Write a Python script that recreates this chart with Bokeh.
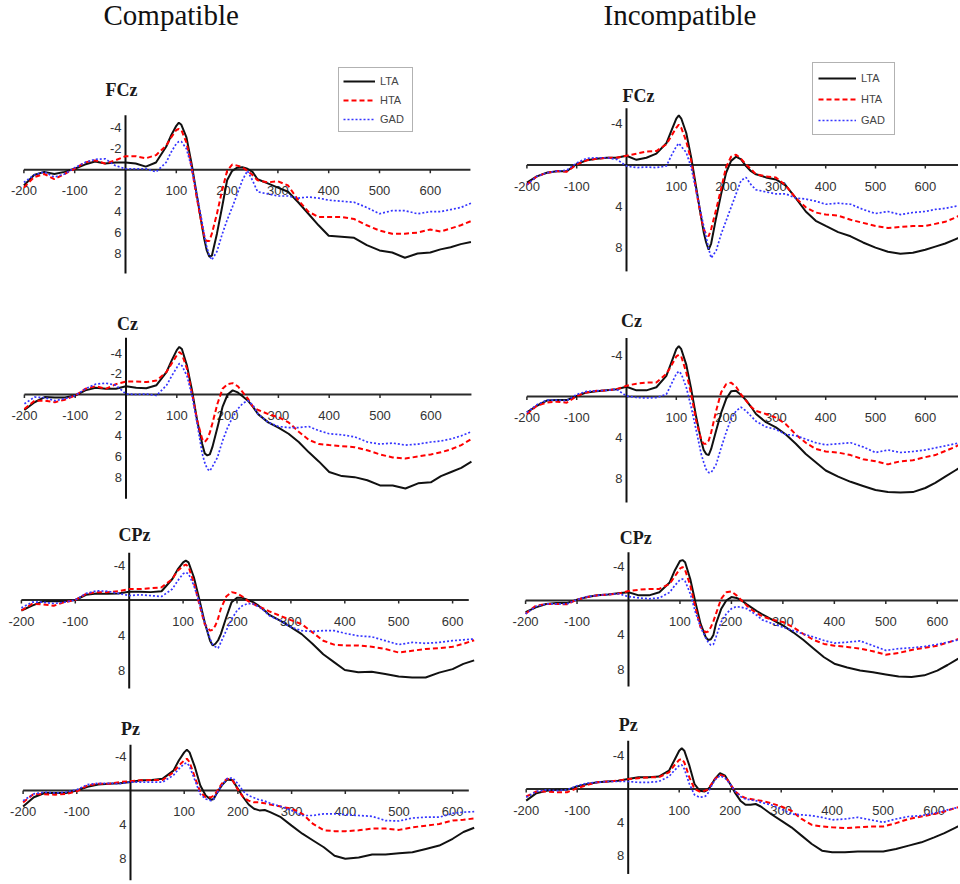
from bokeh.plotting import figure
from bokeh.layouts import column, row
from bokeh.models import Range1d
from bokeh.core.properties import value
from bokeh.embed import file_html
from bokeh.resources import INLINE

# ---------------- data ----------------
TIME = [-200, -180, -160, -140, -120, -100, -80, -60, -40, -20,
        0, 20, 40, 60, 80, 90, 100, 105, 110, 120,
        130, 140, 150, 155, 160, 165, 170, 180, 190, 200,
        210, 220, 230, 240, 250, 260, 280, 300, 320, 340,
        360, 380, 400, 425, 450, 475, 500, 525, 550, 575,
        600, 620, 640, 660, 680]
TIME_640 = [t for t in TIME if t <= 640]

GROUPS = ["LTA", "HTA", "GAD"]
CONDITIONS = ["Compatible", "Incompatible"]
SITES = ["FCz", "Cz", "CPz", "Pz"]

X_TICKS = [-200, -100, 100, 200, 300, 400, 500, 600]
X_TICK_LABELS = ["-200", "-100", "100", "200", "300", "400", "500", "600"]
Y_TICKS_FINE = [-4, -2, 2, 4, 6, 8]
Y_TICKS_COARSE = [-4, 4, 8]

# FCz - compatible
FCZ_COMP_LTA = [1.5, 0.5, 0.2, 0.4, 0.2, -0.1, -0.5, -0.8, -0.6, -0.7,
                -0.7, -0.6, -0.3, -0.7, -2.2, -3.3, -4.2, -4.5, -4.3, -3.1,
                -0.6, 2.3, 5.2, 6.6, 7.7, 8.3, 8.2, 6.1, 3.6, 1.0,
                0.1, -0.2, -0.25, -0.1, 0.2, 0.9, 1.3, 1.7, 2.1, 3.1,
                4.2, 5.3, 6.3, 6.4, 6.5, 7.2, 7.7, 7.9, 8.4, 8.0,
                7.9, 7.6, 7.4, 7.1, 6.9]
FCZ_COMP_HTA = [1.7, 0.7, 0.4, 0.9, 0.4, -0.1, -0.7, -0.9, -0.6, -0.9,
                -1.3, -1.3, -1.1, -1.4, -2.3, -3.1, -3.8, -3.9, -3.8, -2.6,
                -0.3, 2.6, 5.2, 6.3, 6.8, 6.8, 6.1, 4.2, 2.0, 0.1,
                -0.5, -0.4, -0.25, 0.1, 0.5, 1.0, 1.2, 1.1, 1.5, 2.9,
                4.0, 4.5, 4.5, 4.5, 4.7, 5.3, 5.8, 6.1, 6.1, 6.0,
                5.7, 5.9, 5.6, 5.3, 4.9]
FCZ_COMP_GAD = [1.2, 0.5, 0.2, 0.7, 0.4, -0.2, -0.7, -1.0, -1.05, -0.4,
                -0.1, -0.1, -0.1, 0.2, -0.7, -1.7, -2.5, -2.7, -2.7, -2.0,
                -0.25, 2.3, 4.8, 6.2, 7.4, 8.2, 8.6, 7.8, 6.2, 4.8,
                3.6, 2.3, 1.0, 0.1, 1.0, 2.1, 2.3, 2.5, 2.5, 2.7,
                2.6, 2.7, 2.9, 3.0, 3.1, 3.6, 4.2, 3.9, 3.9, 4.2,
                4.0, 4.0, 3.8, 3.6, 3.2]

# FCz - incompatible
FCZ_INC_LTA = [1.7, 1.1, 0.75, 0.6, 0.6, -0.1, -0.45, -0.6, -0.7, -0.7,
               -0.9, -0.5, -0.7, -1.1, -2.1, -3.3, -4.5, -4.8, -4.5, -3.1,
               -0.7, 2.2, 5.1, 6.5, 7.5, 8.2, 7.6, 5.1, 2.8, 0.75,
               -0.4, -0.8, -0.55, 0.1, 0.6, 0.9, 1.2, 1.4, 2.0, 3.2,
               4.5, 5.4, 5.9, 6.5, 6.9, 7.5, 8.0, 8.4, 8.6, 8.5,
               8.2, 7.9, 7.6, 7.2, 6.8]
FCZ_INC_HTA = [1.9, 1.1, 0.75, 0.6, 0.65, -0.05, -0.45, -0.6, -0.7, -0.7,
               -0.9, -1.1, -1.3, -1.35, -2.0, -2.8, -3.6, -3.9, -3.6, -2.3,
               -0.4, 2.5, 5.1, 6.2, 6.7, 6.9, 6.2, 4.3, 2.3, 0.2,
               -0.8, -1.0, -0.6, -0.05, 0.4, 0.9, 1.1, 1.2, 2.0, 3.2,
               4.1, 4.6, 4.8, 4.9, 5.3, 5.6, 5.9, 6.1, 6.0, 5.9,
               5.9, 5.7, 5.5, 5.1, 4.6]
FCZ_INC_GAD = [1.9, 1.1, 0.75, 0.6, 0.5, -0.2, -0.65, -0.7, -0.7, -0.55,
               0.1, 0.25, 0.2, 0.25, 0.1, -0.9, -1.8, -2.1, -1.8, -1.2,
               0.25, 2.5, 4.8, 5.9, 7.0, 8.1, 9.0, 8.3, 6.7, 5.4,
               4.1, 2.8, 1.5, 1.2, 1.9, 2.4, 2.6, 2.8, 2.8, 3.2,
               3.3, 3.5, 3.8, 3.7, 3.8, 4.3, 4.7, 4.5, 4.8, 4.6,
               4.5, 4.3, 4.2, 4.0, 3.9]

# Cz - compatible
CZ_COMP_LTA = [1.5, 0.75, 0.25, 0.3, 0.3, 0.1, -0.4, -0.65, -0.55, -0.55,
               -0.8, -0.65, -0.6, -0.9, -2.2, -3.3, -4.3, -4.6, -4.4, -2.8,
               -0.4, 2.5, 4.8, 5.7, 5.9, 5.8, 5.1, 3.2, 1.2, 0.0,
               -0.4, -0.2, 0.2, 0.6, 1.2, 1.9, 2.7, 3.2, 3.8, 4.6,
               5.6, 6.5, 7.5, 7.9, 8.0, 8.3, 8.8, 8.8, 9.1, 8.6,
               8.5, 7.9, 7.5, 7.1, 6.5]
CZ_COMP_HTA = [1.4, 0.6, 0.6, 0.75, 0.5, 0.1, -0.55, -0.8, -0.55, -1.0,
               -1.25, -1.25, -1.2, -1.35, -2.2, -3.0, -3.8, -4.1, -3.9, -2.5,
               -0.1, 2.5, 4.3, 4.6, 4.3, 3.7, 2.8, 0.9, -0.55, -1.0,
               -1.1, -0.8, -0.2, 0.4, 1.2, 1.5, 1.9, 2.2, 2.7, 3.6,
               4.4, 4.8, 4.9, 5.0, 5.1, 5.4, 5.8, 6.1, 6.2, 6.0,
               5.8, 5.6, 5.3, 4.9, 4.3]
CZ_COMP_GAD = [0.9, 0.25, 0.3, 0.6, 0.4, 0.1, -0.55, -1.0, -1.1, -0.9,
               -0.05, 0.0, -0.05, 0.1, -0.9, -1.8, -2.6, -3.0, -2.8, -1.8,
               0.1, 2.8, 5.7, 6.6, 7.2, 7.4, 7.0, 6.1, 4.5, 3.2,
               2.2, 1.4, 0.85, 0.6, 1.05, 1.9, 2.7, 3.1, 3.2, 3.2,
               3.1, 3.5, 3.8, 3.9, 4.1, 4.6, 4.8, 4.7, 4.9, 4.8,
               4.6, 4.5, 4.3, 4.0, 3.6]

# Cz - incompatible
CZ_INC_LTA = [1.55, 0.9, 0.4, 0.35, 0.35, -0.05, -0.4, -0.5, -0.6, -0.7,
              -0.95, -0.6, -0.6, -0.9, -2.0, -3.3, -4.6, -4.9, -4.6, -3.1,
              -0.7, 2.0, 4.3, 5.2, 5.6, 5.7, 5.1, 3.3, 1.6, 0.25,
              -0.5, -0.55, -0.15, 0.35, 1.0, 1.7, 2.5, 3.0, 3.7, 4.6,
              5.6, 6.4, 7.2, 7.8, 8.3, 8.7, 9.1, 9.3, 9.35, 9.3,
              8.9, 8.4, 7.8, 7.2, 6.6]
CZ_INC_HTA = [1.7, 0.9, 0.6, 0.5, 0.6, -0.05, -0.4, -0.55, -0.6, -0.7,
              -1.05, -1.25, -1.35, -1.35, -2.2, -3.0, -3.9, -4.05, -3.9, -2.35,
              -0.2, 2.4, 4.2, 4.6, 4.6, 4.3, 3.5, 1.4, -0.4, -1.2,
              -1.35, -0.95, -0.2, 0.4, 1.0, 1.4, 1.7, 2.05, 2.7, 3.7,
              4.5, 5.1, 5.35, 5.45, 5.7, 6.1, 6.3, 6.6, 6.3, 6.2,
              5.9, 5.7, 5.3, 4.9, 4.4]
CZ_INC_GAD = [1.55, 0.8, 0.35, 0.35, 0.4, -0.2, -0.5, -0.55, -0.6, -0.7,
              -0.05, 0.1, 0.15, 0.1, -0.2, -1.2, -2.2, -2.45, -2.2, -0.9,
              1.05, 3.3, 5.6, 6.4, 7.1, 7.4, 7.4, 6.6, 5.0, 3.5,
              2.2, 1.4, 1.05, 1.4, 1.9, 2.4, 2.95, 3.2, 3.7, 3.8,
              4.15, 4.5, 4.7, 4.6, 4.5, 4.9, 5.45, 5.2, 5.45, 5.35,
              5.2, 5.0, 4.8, 4.6, 4.4]

# CPz - compatible (to 640 ms)
CPZ_COMP_LTA = [1.2, 0.65, 0.15, 0.15, 0.15, 0.0, -0.6, -0.75, -0.7, -0.75,
                -0.95, -0.95, -0.9, -1.0, -2.4, -3.5, -4.3, -4.5, -4.3, -2.6,
                -0.1, 2.55, 4.65, 5.2, 5.0, 4.6, 3.9, 2.0, 0.25, -0.25,
                -0.25, 0.0, 0.25, 0.65, 1.15, 1.7, 2.35, 3.1, 3.9, 5.0,
                6.2, 7.1, 8.0, 8.25, 8.2, 8.45, 8.75, 8.85, 8.85, 8.3,
                7.9, 7.3, 6.9]
CPZ_COMP_HTA = [1.2, 0.45, 0.5, 0.65, 0.25, 0.0, -0.7, -0.9, -0.9, -1.0,
                -1.25, -1.25, -1.35, -1.45, -2.4, -3.35, -3.9, -4.05, -3.8, -2.0,
                0.45, 2.75, 3.5, 3.4, 2.9, 2.1, 1.0, -0.4, -0.9, -0.75,
                -0.4, 0.1, 0.45, 0.75, 1.0, 1.3, 1.8, 2.3, 2.75, 3.7,
                4.65, 5.1, 5.2, 5.2, 5.35, 5.6, 6.0, 5.8, 5.6, 5.5,
                5.35, 5.0, 4.6]
CPZ_COMP_GAD = [0.9, 0.25, 0.25, 0.4, 0.25, 0.0, -0.75, -1.05, -1.0, -0.75,
                -0.5, -0.6, -0.5, -0.4, -1.25, -2.2, -3.0, -3.15, -3.0, -1.65,
                0.25, 2.55, 4.45, 5.1, 5.35, 5.5, 4.85, 3.5, 2.2, 1.2,
                0.65, 0.4, 0.45, 0.75, 1.2, 1.8, 2.35, 3.1, 3.5, 3.6,
                3.5, 3.5, 3.8, 4.1, 4.2, 4.65, 5.1, 4.85, 4.95, 4.85,
                4.65, 4.55, 4.45]

# CPz - incompatible
CPZ_INC_LTA = [1.35, 0.8, 0.4, 0.3, 0.3, -0.1, -0.4, -0.6, -0.7, -0.85,
               -0.95, -0.6, -0.6, -0.95, -2.1, -3.5, -4.6, -4.7, -4.45, -2.5,
               0.2, 2.7, 4.25, 4.6, 4.5, 4.0, 2.7, 1.0, 0.0, -0.4,
               -0.3, 0.0, 0.45, 0.85, 1.25, 1.6, 2.25, 2.9, 3.7, 4.6,
               5.6, 6.6, 7.35, 7.8, 8.15, 8.35, 8.6, 8.85, 8.9, 8.7,
               8.15, 7.5, 6.8, 6.2, 5.6]
CPZ_INC_HTA = [1.55, 0.6, 0.4, 0.4, 0.45, -0.1, -0.4, -0.6, -0.7, -0.8,
               -1.1, -1.25, -1.35, -1.35, -1.95, -2.8, -3.7, -3.9, -3.55, -1.75,
               0.8, 3.1, 3.7, 3.6, 3.1, 2.4, 1.55, -0.2, -0.95, -1.05,
               -0.6, 0.0, 0.6, 1.1, 1.5, 1.85, 2.25, 2.5, 3.1, 3.9,
               4.6, 5.05, 5.25, 5.4, 5.6, 5.9, 6.3, 6.1, 5.75, 5.5,
               5.25, 4.9, 4.5, 4.1, 3.7]
CPZ_INC_GAD = [1.55, 0.7, 0.4, 0.4, 0.4, -0.1, -0.45, -0.6, -0.7, -0.8,
               -0.45, -0.3, -0.2, -0.3, -0.95, -1.75, -2.4, -2.5, -2.25, -0.8,
               1.35, 3.1, 4.35, 4.85, 5.2, 5.1, 4.25, 2.5, 1.55, 0.95,
               0.7, 0.8, 0.95, 1.35, 1.75, 2.25, 2.7, 3.1, 3.5, 3.9,
               4.25, 4.65, 4.95, 4.85, 4.7, 5.25, 5.8, 5.6, 5.5, 5.35,
               5.1, 4.85, 4.6, 4.4, 4.2]

# Pz - compatible (to 640 ms)
PZ_COMP_LTA = [1.9, 0.8, 0.3, 0.3, 0.3, 0.0, -0.45, -0.7, -0.8, -0.85,
               -1.0, -1.2, -1.25, -1.4, -2.35, -3.55, -4.5, -4.8, -4.5, -2.75,
               -0.6, 0.6, 1.1, 1.0, 0.4, -0.1, -0.6, -1.3, -1.2, -0.2,
               0.8, 1.65, 2.15, 2.35, 2.3, 2.55, 3.15, 4.15, 5.1, 5.9,
               6.7, 7.7, 8.05, 7.9, 7.55, 7.55, 7.4, 7.3, 6.9, 6.5,
               5.7, 4.9, 4.4]
PZ_COMP_HTA = [1.4, 0.4, 0.45, 0.5, 0.4, 0.1, -0.6, -0.8, -0.8, -1.0,
               -1.1, -1.2, -1.25, -1.25, -2.15, -2.95, -3.55, -3.75, -3.35, -1.55,
               0.2, 0.8, 0.8, 0.6, 0.2, -0.3, -0.8, -1.4, -1.2, -0.1,
               0.8, 1.2, 1.4, 1.4, 1.5, 1.65, 1.9, 2.15, 2.75, 3.95,
               4.7, 4.8, 4.8, 4.7, 4.5, 4.5, 4.65, 4.35, 4.15, 3.95,
               3.55, 3.45, 3.3]
PZ_COMP_GAD = [1.2, 0.4, 0.2, 0.3, 0.2, -0.1, -0.7, -0.85, -0.85, -0.8,
               -1.0, -1.0, -1.0, -1.0, -1.8, -2.55, -3.15, -3.25, -2.85, -1.2,
               0.45, 1.0, 1.2, 1.0, 0.4, -0.1, -0.6, -1.4, -1.5, -0.8,
               0.1, 0.6, 0.85, 1.1, 1.25, 1.5, 1.9, 2.35, 2.95, 2.95,
               2.75, 2.75, 2.85, 2.95, 3.05, 3.55, 3.6, 3.25, 3.15, 3.15,
               2.7, 2.55, 2.5]

# Pz - incompatible
PZ_INC_LTA = [1.4, 0.5, 0.2, 0.1, 0.1, -0.3, -0.6, -0.8, -0.9, -1.0,
              -1.2, -1.4, -1.4, -1.5, -2.2, -3.4, -4.6, -4.9, -4.6, -2.8,
              -0.6, 0.2, 0.3, 0.1, -0.2, -0.7, -1.2, -1.9, -1.6, -0.6,
              0.5, 1.4, 1.9, 1.9, 1.8, 2.1, 3.0, 3.8, 4.6, 5.6,
              6.6, 7.4, 7.6, 7.6, 7.5, 7.5, 7.5, 7.2, 6.8, 6.4,
              5.8, 5.3, 4.7, 4.1, 3.6]
PZ_INC_HTA = [0.9, 0.3, 0.3, 0.4, 0.4, -0.1, -0.5, -0.8, -0.9, -1.0,
              -1.2, -1.3, -1.4, -1.4, -2.0, -2.8, -3.5, -3.6, -3.2, -1.4,
              0.0, 0.3, 0.2, 0.1, -0.3, -0.75, -1.2, -1.7, -1.5, -0.6,
              0.3, 0.8, 1.1, 1.2, 1.3, 1.4, 1.7, 2.1, 2.6, 3.6,
              4.3, 4.5, 4.6, 4.7, 4.6, 4.5, 4.5, 4.1, 3.6, 3.3,
              3.0, 2.7, 2.3, 2.0, 1.8]
PZ_INC_GAD = [1.0, 0.3, 0.1, 0.2, 0.1, -0.4, -0.7, -0.8, -0.9, -0.9,
              -0.9, -0.8, -0.8, -0.9, -1.5, -2.2, -2.8, -2.9, -2.4, -0.6,
              0.7, 1.0, 0.9, 0.7, 0.0, -0.55, -1.1, -1.6, -1.3, -0.6,
              0.3, 0.9, 1.2, 1.3, 1.4, 1.6, 1.9, 2.4, 3.0, 3.1,
              3.2, 3.4, 3.7, 3.6, 3.4, 3.7, 4.0, 3.6, 3.3, 3.2,
              2.9, 2.6, 2.3, 2.1, 1.9]

# ---------------- styles ----------------
STYLE = {
    "LTA": dict(line_color="#111111", line_width=2.0),
    "HTA": dict(line_color="#ff0000", line_width=2.0, line_dash="5 3"),
    "GAD": dict(line_color="#3535ff", line_width=1.7, line_dash="2 2"),
}
SANS = value("Liberation Sans")
SERIF = value("Liberation Serif")

# panel geometry: box = (left, top, width, height) on the page;
# geo = (screen x of t=0, px per ms, screen y of 0 uV, px per uV)
PANELS = [
    dict(site="FCz", cond="Compatible", time=TIME,
         data=(FCZ_COMP_LTA, FCZ_COMP_HTA, FCZ_COMP_GAD),
         box=(0, 0, 480, 292), geo=(125, 0.508, 169.3, 10.47),
         x_end=679, y_axis=(-5.2, 9.9), yticks=Y_TICKS_FINE,
         label=(-8, -7.6), header=(-43.3, -14.8),
         legend=(338, 160, 32, 17, 4)),
    dict(site="FCz", cond="Incompatible", time=TIME,
         data=(FCZ_INC_LTA, FCZ_INC_HTA, FCZ_INC_GAD),
         box=(480, 0, 478, 292), geo=(626, 0.498, 164.5, 10.33),
         x_end=700, y_axis=(-5.5, 10.3), yticks=Y_TICKS_COARSE,
         label=(24, -6.7), header=(-46.2, -14.55),
         legend=(332, 157, 38, 19, 5)),
    dict(site="Cz", cond="Compatible", time=TIME,
         data=(CZ_COMP_LTA, CZ_COMP_HTA, CZ_COMP_GAD),
         box=(0, 292, 480, 216), geo=(125.5, 0.508, 394, 10.33),
         x_end=680, y_axis=(-5.5, 10.1), yticks=Y_TICKS_FINE,
         label=(3, -6.8)),
    dict(site="Cz", cond="Incompatible", time=TIME,
         data=(CZ_INC_LTA, CZ_INC_HTA, CZ_INC_GAD),
         box=(480, 292, 478, 216), geo=(626, 0.498, 396, 10.28),
         x_end=700, y_axis=(-5.7, 10.3), yticks=Y_TICKS_COARSE,
         label=(10, -7.3)),
    dict(site="CPz", cond="Compatible", time=TIME_640,
         data=(CPZ_COMP_LTA, CPZ_COMP_HTA, CPZ_COMP_GAD),
         box=(0, 508, 480, 192), geo=(128.7, 0.539, 599.5, 8.75),
         x_end=630, y_axis=(-5.4, 10.1), yticks=Y_TICKS_COARSE,
         label=(10, -7.4)),
    dict(site="CPz", cond="Incompatible", time=TIME,
         data=(CPZ_INC_LTA, CPZ_INC_HTA, CPZ_INC_GAD),
         box=(480, 508, 478, 192), geo=(628, 0.5146, 600, 8.6),
         x_end=700, y_axis=(-5.6, 10.0), yticks=Y_TICKS_COARSE,
         label=(14, -7.3)),
    dict(site="Pz", cond="Compatible", time=TIME_640,
         data=(PZ_COMP_LTA, PZ_COMP_HTA, PZ_COMP_GAD),
         box=(0, 700, 480, 182), geo=(130, 0.537, 790, 8.47),
         x_end=630, y_axis=(-5.4, 10.6), yticks=Y_TICKS_COARSE,
         label=(0, -7.3)),
    dict(site="Pz", cond="Incompatible", time=TIME,
         data=(PZ_INC_LTA, PZ_INC_HTA, PZ_INC_GAD),
         box=(480, 700, 478, 182), geo=(627.7, 0.510, 788.5, 8.33),
         x_end=700, y_axis=(-5.8, 10.2), yticks=Y_TICKS_COARSE,
         label=(0, -7.7)),
]


def make_panel(cfg):
    left, top, w, h = cfg["box"]
    x0, sx, y0, ky = cfg["geo"]
    p = figure(width=w, height=h,
               x_range=Range1d((left - x0) / sx, (left + w - x0) / sx),
               y_range=Range1d((top + h - y0) / ky, (top - y0) / ky),
               x_axis_location=None, y_axis_location=None,
               toolbar_location=None, output_backend="svg",
               min_border=0, outline_line_color=None,
               background_fill_color="white", border_fill_color="white")
    p.xgrid.visible = False
    p.ygrid.visible = False

    # axes drawn through the origin
    p.segment(x0=[X_TICKS[0]], y0=[0], x1=[cfg["x_end"]], y1=[0],
              line_color="#2a2a2a", line_width=2)
    n = len(X_TICKS)
    p.segment(x0=X_TICKS, y0=[0] * n, x1=X_TICKS, y1=[3.5 / ky] * n,
              line_color="#2a2a2a", line_width=1.5)
    ytop, ybot = cfg["y_axis"]
    p.segment(x0=[0], y0=[ytop], x1=[0], y1=[ybot],
              line_color="#111111", line_width=2)

    p.text(x=X_TICKS, y=[0] * n, text=X_TICK_LABELS, y_offset=21,
           text_align="center", text_baseline="middle",
           text_font=SANS, text_font_size="13px", text_color="#333333")
    yt = cfg["yticks"]
    p.text(x=[0] * len(yt), y=yt, text=[str(v) for v in yt], x_offset=-4,
           text_align="right", text_baseline="middle",
           text_font=SANS, text_font_size="13px", text_color="#333333")

    lx, ly = cfg["label"]
    p.text(x=[lx], y=[ly], text=[cfg["site"]], text_align="center",
           text_baseline="middle", text_font=SERIF, text_font_style="bold",
           text_font_size="18px", text_color="#1a1a1a")
    if "header" in cfg:
        hx, hy = cfg["header"]
        p.text(x=[hx], y=[hy], text=[cfg["cond"]], text_align="left",
               text_baseline="middle", text_font=SERIF,
               text_font_size="29px", text_color="#111111")

    t = cfg["time"]
    for g, vals in zip(GROUPS, cfg["data"]):
        kw = dict(STYLE[g])
        if "legend" in cfg:
            kw["legend_label"] = g
        p.line(x=t, y=vals, **kw)

    if "legend" in cfg:
        lx0, ly0, gw, lh, pad = cfg["legend"]
        lg = p.legend[0]
        lg.location = (lx0, ly0)
        lg.glyph_width = gw
        lg.glyph_height = 14
        lg.label_height = lh
        lg.label_width = 28
        lg.label_standoff = 5
        lg.padding = pad
        lg.spacing = 2
        lg.margin = 0
        lg.label_text_font = "Liberation Sans"
        lg.label_text_font_size = "11px"
        lg.label_text_color = "#444444"
        lg.border_line_color = "#666666"
        lg.border_line_width = 1.5
        lg.background_fill_color = "white"
        lg.background_fill_alpha = 1.0
    return p


figs = [make_panel(c) for c in PANELS]
layout = column(row(figs[0], figs[1]), row(figs[2], figs[3]),
                row(figs[4], figs[5]), row(figs[6], figs[7]))

open("out.html", "w").write(file_html(layout, INLINE))
